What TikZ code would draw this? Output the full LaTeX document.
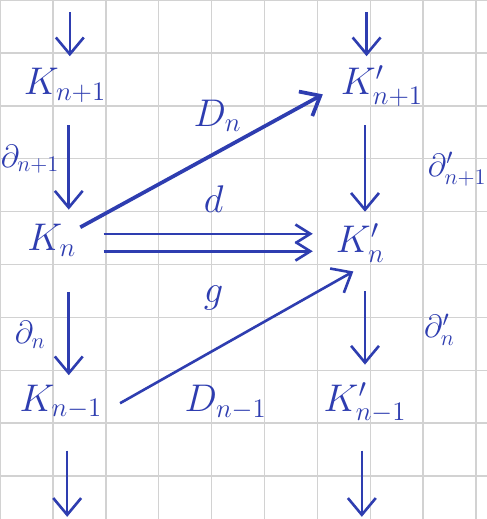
\documentclass[tikz,border=0pt]{standalone}
\usepackage{amsmath,amssymb}
\usetikzlibrary{arrows.meta, positioning, calc}
\definecolor{ink}{HTML}{2E3DB0}
\definecolor{paper}{HTML}{D2D2D2}

\begin{document}
\begin{tikzpicture}[
  every node/.style={text=ink, font=\huge},
  obj/.style={inner sep=2pt, text height=0.5cm, text depth=0.2cm},
  lbl/.style={inner sep=1pt},
  bdry/.style={lbl, font=\LARGE},
  arr/.style={draw=ink, line width=1.4pt, -{Straight Barb[length=9pt, width=15pt]}},
  vert/.style={arr, shorten <=0.3cm, shorten >=0.2cm},
  pair/.style={arr, -{Straight Barb[length=8pt, width=10pt]}, shorten <=0.44cm, shorten >=0.36cm}
]
  % Paper grid
  \useasboundingbox (0,-0.811) rectangle (9.206,9);
  \fill[white] (0,-0.811) rectangle (9.206,9);
  \draw[paper, line width=0.8pt] (0,-0.811) grid (9.206,9);
  % Columns of the two complexes
  \coordinate (lcol) at (1.3,0);
  \coordinate (rcol) at (6.9,0);
  \coordinate (ltop) at (1.32,8.77);
  \coordinate (rtop) at (6.93,8.77);
  \coordinate (lbot) at (1.27,-0.77);
  \coordinate (rbot) at (6.84,-0.77);
  % Objects
  \node[obj] (Kn1)  at (1.23,7.36) {$K_{n+1}$};
  \node[obj] (Kpn1) at (7.22,7.36) {$K'_{n+1}$};
  \node[obj] (Kn)   at (0.98,4.41) {$K_n$};
  \node[obj] (Kpn)  at (6.81,4.37) {$K'_n$};
  \node[obj] (Knm)  at (1.15,1.38) {$K_{n-1}$};
  \node[obj] (Kpnm) at (6.90,1.38) {$K'_{n-1}$};
  % Boundary maps
  \draw[arr, shorten >=0.15cm] (ltop) -- (Kn1.north -| ltop);
  \draw[arr, shorten >=0.15cm] (rtop) -- (Kpn1.north -| rtop);
  \draw[vert] (Kn1.south -| lcol) -- (Kn.north -| lcol)
    node[bdry, pos=0.45, left=0.12cm] {$\partial_{n+1}$};
  \draw[vert] (Kpn1.south -| rcol) -- (Kpn.north -| rcol)
    node[bdry, pos=0.53, right=1.13cm] {$\partial'_{n+1}$};
  \draw[vert, shorten <=0.5cm, shorten >=0.1cm] (Kn.south -| lcol) -- (Knm.north -| lcol)
    node[bdry, pos=0.6, left=0.38cm] {$\partial_n$};
  \draw[vert, shorten <=0.45cm, shorten >=0.3cm] (Kpn.south -| rcol) -- (Kpnm.north -| rcol)
    node[bdry, pos=0.55, right=1.06cm] {$\partial'_n$};
  \draw[arr, shorten <=0.47cm] (Knm.south -| lbot) -- (lbot);
  \draw[arr, shorten <=0.47cm] (Kpnm.south -| rbot) -- (rbot);
  % Chain maps and homotopies
  \draw[pair] ([yshift=0.17cm]Kn.east) -- ([yshift=0.17cm]Kn.east -| Kpn.west)
    node[lbl, pos=0.53, above=0.35cm] {$d$};
  \draw[pair] ([yshift=-0.16cm]Kn.east) -- ([yshift=-0.16cm]Kn.east -| Kpn.west)
    node[lbl, pos=0.53, below=0.6cm] {$g$};
  \draw[arr, line width=2pt, shorten >=0.3cm] (Kn) -- (Kpn1.west)
    node[lbl, pos=0.535, above=0.31cm] {$D_n$};
  \draw[arr, shorten <=0.3cm, shorten >=0.15cm] ([yshift=-0.15cm]Knm.east) -- (Kpn.south)
    node[lbl, pos=0.47, below=0.73cm] {$D_{n-1}$};
\end{tikzpicture}
\end{document}
